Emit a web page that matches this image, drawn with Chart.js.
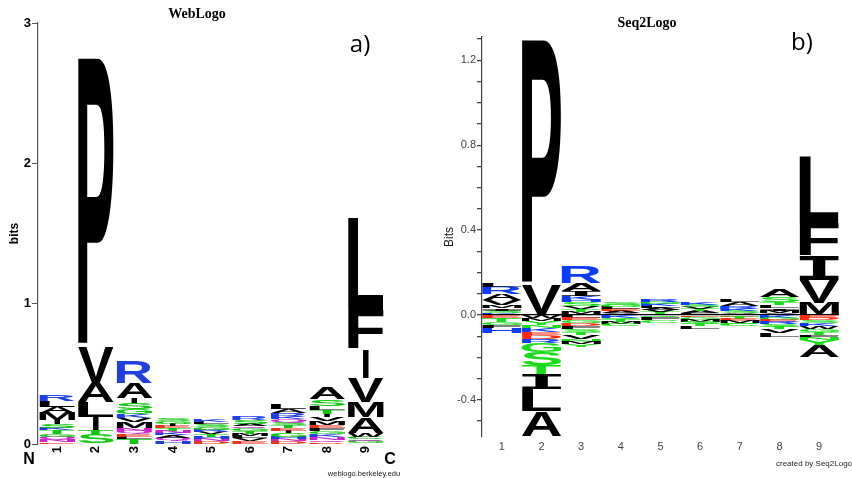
<!DOCTYPE html>
<html>
<head>
<meta charset="utf-8">
<script src="https://cdn.jsdelivr.net/npm/chart.js@4.4.1/dist/chart.umd.min.js"></script>
<style>
  body { margin: 0; width: 852px; height: 478px; background: #fff; overflow: hidden; position: relative; font-family: "Liberation Sans", Arial, sans-serif; }
  canvas { position: absolute; top: 0; }
  #webLogo { left: 0; }
  #seqLogo { left: 420px; }
  .txt { position: absolute; transform: translate(-50%, -50%); white-space: nowrap; color: #000; }
  .title { font-family: "Liberation Serif", "Times New Roman", serif; font-weight: bold; font-size: 14px; }
  .panel { font-family: "Open Sans", sans-serif; font-size: 24px; }
  .term { font-weight: bold; font-size: 16px; }
  .credit { font-size: 7.5px; color: #222; }
</style>
</head>
<body>
<canvas id="webLogo" width="420" height="478"></canvas>
<canvas id="seqLogo" width="432" height="478"></canvas>

<div class="txt title" style="left:197px; top:14px;">WebLogo</div>
<div class="txt panel" style="left:360px; top:42px;">a)</div>
<div class="txt term" style="left:29px; top:459px;">N</div>
<div class="txt term" style="left:390px; top:459px;">C</div>
<div class="txt credit" style="left:364px; top:473px;">weblogo.berkeley.edu</div>

<div class="txt title" style="left:647px; top:23px;">Seq2Logo</div>
<div class="txt panel" style="left:802px; top:40px;">b)</div>
<div class="txt credit" style="left:814px; top:463px; font-size:8px;">created by Seq2Logo</div>

<script>
// Positions
const positions = ["1", "2", "3", "4", "5", "6", "7", "8", "9"];

// WebLogo (bits) - letters top to bottom in each column
const webLetters = ["RLAMISKTGQNE", "PVALITS", "RAISGKVMNQELT", "SGIETNKAQH", "KLSGRVTHND",
  "RSAQGTMLVE", "LARKQSTEIGHND", "ASLTIVMEFGKNQD", "LFIVMAWCQG"];
const webBits = [
  [0.043, 0.043, 0.043, 0.05, 0.029, 0.029, 0.014, 0.029, 0.021, 0.021, 0.014, 0.014],
  [2.06, 0.257, 0.135, 0.107, 0.093, 0.036, 0.064],
  [0.15, 0.107, 0.036, 0.043, 0.036, 0.029, 0.029, 0.043, 0.021, 0.021, 0.021, 0.014, 0.036],
  [0.021, 0.021, 0.014, 0.014, 0.021, 0.014, 0.014, 0.021, 0.021, 0.021],
  [0.021, 0.014, 0.021, 0.021, 0.014, 0.014, 0.021, 0.014, 0.014, 0.021],
  [0.029, 0.029, 0.014, 0.014, 0.021, 0.021, 0.014, 0.014, 0.021, 0.021],
  [0.036, 0.029, 0.029, 0.014, 0.021, 0.021, 0.021, 0.021, 0.014, 0.029, 0.014, 0.014, 0.021],
  [0.078, 0.05, 0.029, 0.029, 0.021, 0.029, 0.029, 0.021, 0.021, 0.021, 0.021, 0.021, 0.014, 0.014],
  [0.656, 0.278, 0.207, 0.171, 0.107, 0.114, 0.029, 0.014, 0.014, 0.021]
];
const webTicks = [0, 1, 2, 3];

// Seq2Logo (bits) - above zero top to bottom, below zero from zero downwards
const seqUpLetters = ["LRAVMISK", "PV", "RAIKHSVTM", "SGLEAV", "RGKLAVT", "KSVTAL", "LARKSV", "ASTLIMV", "LFIVM"];
const seqUpBits = [
  [0.019, 0.033, 0.028, 0.024, 0.014, 0.014, 0.009, 0.009],
  [1.156, 0.141],
  [0.075, 0.038, 0.024, 0.019, 0.009, 0.019, 0.014, 0.014, 0.014],
  [0.014, 0.009, 0.009, 0.009, 0.009, 0.009],
  [0.014, 0.009, 0.009, 0.009, 0.009, 0.009, 0.014],
  [0.014, 0.009, 0.009, 0.009, 0.009, 0.009],
  [0.014, 0.019, 0.014, 0.009, 0.009, 0.009],
  [0.038, 0.024, 0.014, 0.014, 0.014, 0.009, 0.009],
  [0.315, 0.15, 0.118, 0.108, 0.056]
];
const seqDownLetters = ["ETGFH", "WMYNKEDRGSTILA", "LEGDFSTVNMY", "KQTMC", "QFC", "EGMSTL", "DTEMQC", "KGERSTVL", "EDSKWGTFNYA"];
const seqDownBits = [
  [-0.014, -0.019, -0.014, -0.014, -0.024],
  [-0.014, -0.014, -0.019, -0.014, -0.019, -0.014, -0.019, -0.019, -0.042, -0.061, -0.042, -0.071, -0.103, -0.118],
  [-0.014, -0.009, -0.014, -0.014, -0.014, -0.014, -0.014, -0.019, -0.014, -0.009, -0.014],
  [-0.014, -0.009, -0.009, -0.009, -0.009],
  [-0.014, -0.009, -0.014],
  [-0.009, -0.014, -0.009, -0.009, -0.009, -0.014],
  [-0.009, -0.009, -0.009, -0.009, -0.009, -0.009],
  [-0.014, -0.009, -0.009, -0.009, -0.014, -0.009, -0.019, -0.019],
  [-0.014, -0.009, -0.014, -0.014, -0.014, -0.014, -0.014, -0.014, -0.009, -0.024, -0.056]
];
const seqTicks = [-0.5, -0.4, -0.3, -0.2, -0.1, 0, 0.1, 0.2, 0.3, 0.4, 0.5, 0.6, 0.7, 0.8, 0.9, 1.0, 1.1, 1.2, 1.3];

// Colour schemes
function chemColors(green, purple, blue, red, black) {
  const c = {};
  "GSTYC".split("").forEach(a => c[a] = green);
  "NQ".split("").forEach(a => c[a] = purple);
  "KRH".split("").forEach(a => c[a] = blue);
  "DE".split("").forEach(a => c[a] = red);
  "AVLIPWFM".split("").forEach(a => c[a] = black);
  return c;
}
const webColors = chemColors("#10c810", "#cc22cc", "#1f3fe0", "#e8321c", "#000");
const seqColors = chemColors("#18dc18", "#18dc18", "#0a3cff", "#ff2a10", "#000");

// Build stacked layers: positive stacks from bottom up, negative from zero down
function buildDatasets(upLetters, upBits, downLetters, downBits) {
  const sets = [];
  const upDepth = Math.max(...upLetters.map(s => s.length));
  for (let i = 0; i < upDepth; i++) {
    const data = [], letters = [];
    upLetters.forEach((s, c) => {
      const k = s.length - 1 - i;
      data.push(k >= 0 ? upBits[c][k] : null);
      letters.push(k >= 0 ? s[k] : null);
    });
    sets.push({ data, letters });
  }
  if (downLetters) {
    const downDepth = Math.max(...downLetters.map(s => s.length));
    for (let i = 0; i < downDepth; i++) {
      const data = [], letters = [];
      downLetters.forEach((s, c) => {
        data.push(i < s.length ? downBits[c][i] : null);
        letters.push(i < s.length ? s[i] : null);
      });
      sets.push({ data, letters });
    }
  }
  sets.forEach(d => {
    d.stack = "logo";
    d.backgroundColor = "rgba(0,0,0,0)";
    d.borderWidth = 0;
  });
  return sets;
}

// Draw a letter stretched to fill a box
function drawGlyph(ctx, ch, x, y, w, h, color, family) {
  ctx.save();
  ctx.font = "bold 100px " + family;
  ctx.textAlign = "left";
  ctx.textBaseline = "alphabetic";
  const m = ctx.measureText(ch);
  const gw = m.actualBoundingBoxLeft + m.actualBoundingBoxRight;
  const gh = m.actualBoundingBoxAscent + m.actualBoundingBoxDescent;
  ctx.translate(x, y);
  ctx.scale(w / gw, h / gh);
  ctx.fillStyle = color;
  ctx.fillText(ch, m.actualBoundingBoxLeft, m.actualBoundingBoxAscent);
  ctx.restore();
}

const logoLetters = {
  id: "logoLetters",
  afterDatasetsDraw(chart, args, opts) {
    const ctx = chart.ctx;
    chart.data.datasets.forEach((ds, i) => {
      chart.getDatasetMeta(i).data.forEach((bar, j) => {
        const ch = ds.letters[j];
        if (!ch) return;
        const p = bar.getProps(["x", "y", "base", "width"], true);
        const h = Math.abs(p.base - p.y);
        if (h < 0.3) return;
        let w = p.width;
        if (opts.narrowI && ch === "I") w = p.width * opts.narrowI;
        const fam = (opts.serifI && ch === "I") ? '"Liberation Mono", monospace' : '"Liberation Sans", Arial, sans-serif';
        drawGlyph(ctx, ch, p.x - w / 2, Math.min(p.y, p.base), w, h, opts.colors[ch], fam);
      });
    });
  }
};

// WebLogo panel
new Chart(document.getElementById("webLogo"), {
  type: "bar",
  data: { labels: positions, datasets: buildDatasets(webLetters, webBits) },
  plugins: [logoLetters],
  options: {
    responsive: false,
    animation: false,
    devicePixelRatio: 1,
    layout: { padding: { top: 23, right: 35, left: 0, bottom: 0 } },
    datasets: { bar: { barPercentage: 0.93, categoryPercentage: 1 } },
    plugins: {
      legend: { display: false },
      tooltip: { enabled: false },
      logoLetters: { colors: webColors, narrowI: 0.17 }
    },
    scales: {
      x: {
        stacked: true,
        grid: { display: false, drawTicks: false },
        border: { display: false },
        ticks: { color: "#000", font: { family: "Liberation Sans", weight: "bold", size: 13 }, minRotation: 90, maxRotation: 90, padding: 2 },
        afterFit: s => { s.height = 34; }
      },
      y: {
        stacked: true,
        min: 0,
        max: 3,
        afterBuildTicks: s => { s.ticks = webTicks.map(v => ({ value: v })); },
        ticks: { color: "#000", font: { family: "Liberation Sans", weight: "bold", size: 13 }, padding: 1 },
        grid: { drawOnChartArea: false, tickLength: 6, tickColor: "#555" },
        border: { display: true, color: "#555", width: 1.2 },
        title: { display: true, text: "bits", color: "#000", font: { family: "Liberation Sans", weight: "bold", size: 12 }, padding: { top: 7, bottom: 0 } },
        afterFit: s => { s.width = 38; }
      }
    }
  }
});

// Seq2Logo panel
new Chart(document.getElementById("seqLogo"), {
  type: "bar",
  data: { labels: positions, datasets: buildDatasets(seqUpLetters, seqUpBits, seqDownLetters, seqDownBits) },
  plugins: [logoLetters],
  options: {
    responsive: false,
    animation: false,
    devicePixelRatio: 1,
    layout: { padding: { top: 37, right: 13, left: 0, bottom: 0 } },
    datasets: { bar: { barPercentage: 1, categoryPercentage: 1 } },
    plugins: {
      legend: { display: false },
      tooltip: { enabled: false },
      logoLetters: { colors: seqColors, serifI: true }
    },
    scales: {
      x: {
        stacked: true,
        grid: { display: false, drawTicks: false },
        border: { display: false },
        ticks: { color: "#444", font: { family: "Liberation Sans", size: 11 }, maxRotation: 0, padding: 3 },
        afterFit: s => { s.height = 41; }
      },
      y: {
        stacked: true,
        min: -0.575,
        max: 1.31,
        afterBuildTicks: s => { s.ticks = seqTicks.map(v => ({ value: v })); },
        ticks: {
          autoSkip: false,
          color: "#444",
          font: { family: "Liberation Sans", size: 11 },
          padding: 1,
          callback: v => (Math.abs(v / 0.4 - Math.round(v / 0.4)) < 1e-6 ? v.toFixed(1) : "")
        },
        grid: {
          drawOnChartArea: true,
          color: c => (c.tick && c.tick.value === 0 ? "#000" : "rgba(0,0,0,0)"),
          lineWidth: 1.3,
          tickLength: 5,
          tickColor: "#444"
        },
        border: { display: true, color: "#444", width: 1.2 },
        title: { display: true, text: "Bits", color: "#222", font: { family: "Liberation Sans", size: 12 }, padding: { top: 22, bottom: 0 } },
        afterFit: s => { s.width = 62; }
      }
    }
  }
});
</script>
</body>
</html>
